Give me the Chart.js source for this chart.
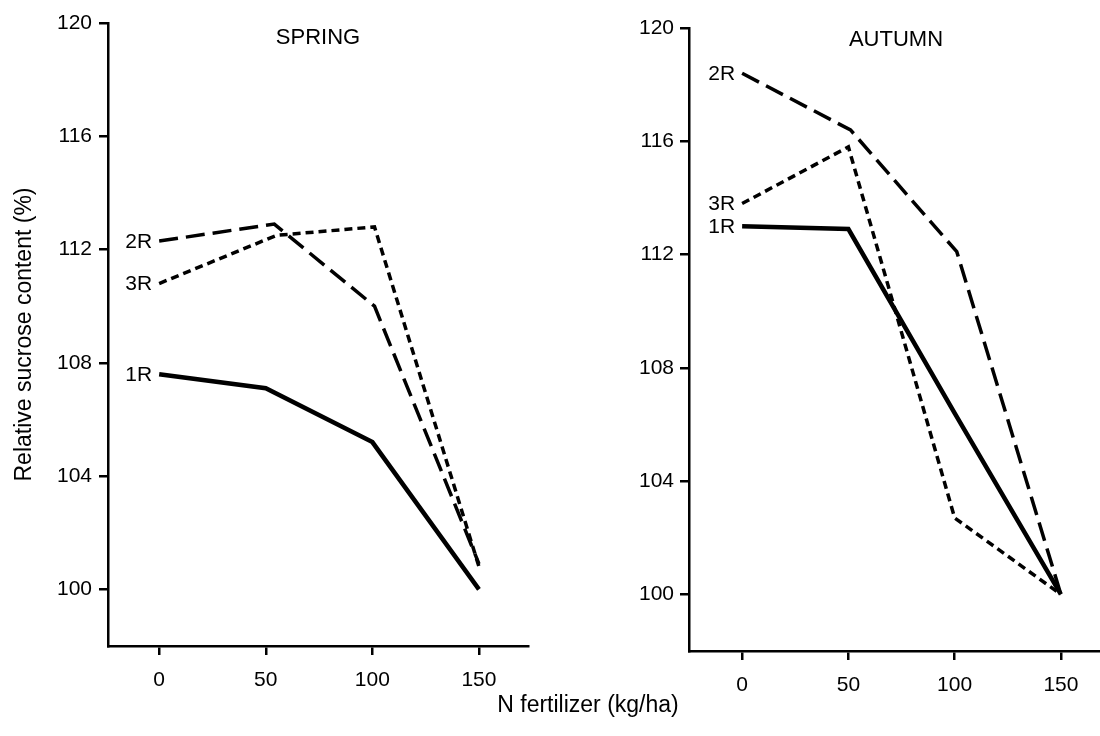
<!DOCTYPE html>
<html>
<head>
<meta charset="utf-8">
<script src="https://cdn.jsdelivr.net/npm/chart.js@4.4.0/dist/chart.umd.min.js"></script>
<style>
  html, body { margin: 0; padding: 0; background: #fff; }
  #wrap { position: relative; width: 1100px; height: 736px; overflow: hidden; }
  canvas { position: absolute; top: 0; }
  #spring { left: 0; }
  #autumn { left: 545px; }
  #xtitle {
    position: absolute; left: 458px; width: 260px; top: 691px; line-height: 28px;
    text-align: center; font: 23px "Liberation Sans", Arial, sans-serif; color: #000;
  }
</style>
</head>
<body>
<div id="wrap">
  <canvas id="spring" width="545" height="736"></canvas>
  <canvas id="autumn" width="555" height="736"></canvas>
  <div id="xtitle">N fertilizer (kg/ha)</div>
</div>
<script>
var xTicks = [0, 50, 100, 150];
var yTicks = [100, 104, 108, 112, 116, 120];
var seriesNames = ["1R", "2R", "3R"];

// SPRING
var spring1Rx = [0, 50, 100, 150];
var spring1R = [107.6, 107.1, 105.2, 100.0];
var spring2Rx = [0, 54, 101, 150];
var spring2R = [112.3, 112.9, 110.0, 100.9];
var spring3Rx = [0, 55, 101, 150];
var spring3R = [110.8, 112.5, 112.8, 100.8];

// AUTUMN
var autumn1Rx = [0, 50, 100, 150];
var autumn1R = [113.0, 112.9, 106.4, 100.0];
var autumn2Rx = [0, 51, 101, 150];
var autumn2R = [118.4, 116.4, 112.1, 100.0];
var autumn3Rx = [0, 50, 100, 150];
var autumn3R = [113.8, 115.8, 102.7, 100.0];

var FONT = "'Liberation Sans', Arial, sans-serif";
Chart.defaults.font.family = FONT;
Chart.defaults.color = "#000";

function pts(xs, ys) {
  return xs.map(function (x, i) { return { x: x, y: ys[i] }; });
}

var styles = [
  { borderWidth: 4.5, borderDash: [] },
  { borderWidth: 3.5, borderDash: [19, 8] },
  { borderWidth: 3.5, borderDash: [8, 5] }
];

function makeDatasets(xsList, ysList) {
  return seriesNames.map(function (name, i) {
    return {
      label: name,
      data: pts(xsList[i], ysList[i]),
      borderColor: "#000",
      borderWidth: styles[i].borderWidth,
      borderDash: styles[i].borderDash,
      borderCapStyle: "butt",
      pointRadius: 0,
      tension: 0,
      fill: false
    };
  });
}

var panelText = {
  id: "panelText",
  afterDatasetsDraw: function (chart, args, opts) {
    var ctx = chart.ctx;
    ctx.save();
    ctx.fillStyle = "#000";
    ctx.font = "22px " + FONT;
    ctx.textAlign = "center";
    ctx.textBaseline = "middle";
    ctx.fillText(opts.title, chart.chartArea.left + opts.titleDx, chart.chartArea.top + opts.titleDy);
    ctx.font = "21px " + FONT;
    ctx.textAlign = "right";
    chart.data.datasets.forEach(function (ds, i) {
      var p = chart.getDatasetMeta(i).data[0];
      ctx.fillText(ds.label, p.x - 7, p.y + 1);
    });
    ctx.restore();
  }
};

function makeChart(id, xsList, ysList, cfg) {
  return new Chart(document.getElementById(id), {
    type: "line",
    data: { datasets: makeDatasets(xsList, ysList) },
    plugins: [panelText],
    options: {
      responsive: false,
      animation: false,
      layout: { padding: { top: cfg.top, right: cfg.right, left: 0, bottom: 0 } },
      plugins: {
        legend: { display: false },
        tooltip: { enabled: false },
        panelText: { title: cfg.title, titleDx: cfg.titleDx, titleDy: cfg.titleDy }
      },
      scales: {
        x: {
          type: "linear",
          min: cfg.xmin,
          max: cfg.xmax,
          afterBuildTicks: function (s) { s.ticks = xTicks.map(function (v) { return { value: v }; }); },
          afterFit: function (s) { s.height = cfg.xh; },
          grid: { display: true, drawOnChartArea: false, drawTicks: true, tickLength: 9, color: "#000", lineWidth: 2.5 },
          border: { display: true, color: "#000", width: 2.5 },
          ticks: { font: { size: 21 }, padding: 13, maxRotation: 0 }
        },
        y: {
          min: 98,
          max: 120,
          afterBuildTicks: function (s) { s.ticks = yTicks.map(function (v) { return { value: v }; }); },
          afterFit: function (s) { s.width = cfg.yw; },
          grid: { display: true, drawOnChartArea: false, drawTicks: true, tickLength: 9, color: "#000", lineWidth: 2.5 },
          border: { display: true, color: "#000", width: 2.5 },
          ticks: { font: { size: 21 }, padding: cfg.ypad },
          title: {
            display: cfg.ytitle,
            text: "Relative sucrose content (%)",
            font: { size: 23 },
            padding: { top: 11, bottom: 0 }
          }
        }
      }
    }
  });
}

makeChart("spring",
  [spring1Rx, spring2Rx, spring3Rx],
  [spring1R, spring2R, spring3R],
  { title: "SPRING", titleDx: 210, titleDy: 15, top: 23, right: 17, xh: 90, yw: 108, ypad: 7,
    xmin: -24, xmax: 173, ytitle: true });

makeChart("autumn",
  [autumn1Rx, autumn2Rx, autumn3Rx],
  [autumn1R, autumn2R, autumn3R],
  { title: "AUTUMN", titleDx: 207, titleDy: 12, top: 28, right: 0, xh: 85, yw: 144, ypad: 6,
    xmin: -25, xmax: 168.4, ytitle: false });
</script>
</body>
</html>
